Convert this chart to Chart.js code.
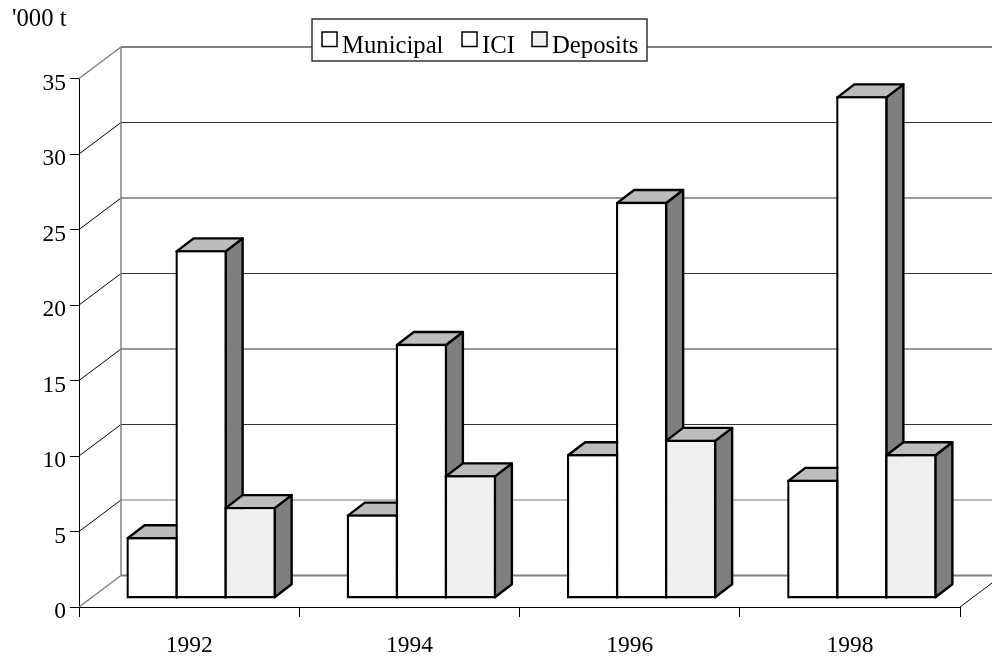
<!DOCTYPE html>
<html>
<head>
<meta charset="utf-8">
<title>Chart</title>
<script src="https://cdn.jsdelivr.net/npm/chart.js@4/dist/chart.umd.min.js"></script>
<style>
  body { margin: 0; background: #fff; }
  canvas { display: block; }
</style>
</head>
<body>
<canvas id="chart" width="992" height="657"></canvas>
<script>
const years = ["1992", "1994", "1996", "1998"];
const municipal = [4.1, 5.6, 9.6, 7.9];
const ici = [23.1, 16.9, 26.3, 33.3];
const deposits = [6.1, 8.2, 10.55, 9.6];
const seriesNames = ["Municipal", "ICI", "Deposits"];
const seriesColors = ["#ffffff", "#ffffff", "#f0f0f0"];
const unitLabel = "'000 t";

const FONT = '"Liberation Serif", serif';
const LEGEND_SIZE = 24.7;
const TICK_SIZE = 23.5;
const OUTLINE = 2.4;
// how far the back wall sits from the front of the floor
const WALL_DX = 42;
const WALL_DY = -31.5;
// bars stand a little way back on the floor, and have their own depth
const BAR_DX = 12;
const BAR_DY = -8;
const DEPTH_DX = 17;
const DEPTH_DY = -13;

function line(ctx, x1, y1, x2, y2, color, width) {
  ctx.strokeStyle = color;
  ctx.lineWidth = width;
  ctx.beginPath();
  ctx.moveTo(x1, y1);
  ctx.lineTo(x2, y2);
  ctx.stroke();
}

function face(ctx, pts, fill) {
  ctx.fillStyle = fill;
  ctx.strokeStyle = "#000";
  ctx.lineWidth = OUTLINE;
  ctx.lineJoin = "round";
  ctx.beginPath();
  pts.forEach((p, i) => (i ? ctx.lineTo(p[0], p[1]) : ctx.moveTo(p[0], p[1])));
  ctx.closePath();
  ctx.fill();
  ctx.stroke();
}

function drawWalls(chart) {
  const ctx = chart.ctx;
  const x = chart.scales.x;
  const y = chart.scales.y;
  ctx.save();
  y.ticks.forEach((t) => {
    const py = y.getPixelForValue(t.value);
    const edge = t.value === 0 || t.value === 35;
    const color = edge ? "#808080" : t.value === 5 ? "#777" : "#333";
    line(ctx, x.left, py, x.left + WALL_DX, py + WALL_DY, edge ? "#808080" : "#000", edge ? 1.5 : 1);
    line(ctx, x.left + WALL_DX, py + WALL_DY, x.right + WALL_DX, py + WALL_DY, color, edge ? 2 : 1);
  });
  const top = y.getPixelForValue(35) + WALL_DY;
  const floor = y.getPixelForValue(0) + WALL_DY;
  line(ctx, x.left + WALL_DX, top, x.left + WALL_DX, floor, "#808080", 1.5);
  line(ctx, x.right, y.getPixelForValue(0), x.right + WALL_DX, floor, "#000", 1);
  ctx.restore();
}

const walls3d = {
  id: "walls3d",
  beforeDatasetsDraw(chart) {
    const ctx = chart.ctx;
    drawWalls(chart);
    // series go left to right, so each bar's front hides the side of the one before
    ctx.save();
    ctx.translate(BAR_DX, BAR_DY);
    chart.data.datasets.forEach((ds, i) => {
      const meta = chart.getDatasetMeta(i);
      meta.data.forEach((el) => {
        const l = el.x - el.width / 2 + OUTLINE / 2;
        const r = el.x + el.width / 2 - OUTLINE / 2;
        const t = el.y + OUTLINE / 2;
        const b = el.base - OUTLINE / 2;
        face(ctx, [[r, t], [r + DEPTH_DX, t + DEPTH_DY], [r + DEPTH_DX, b + DEPTH_DY], [r, b]], "#7f7f7f");
        face(ctx, [[l, t], [l + DEPTH_DX, t + DEPTH_DY], [r + DEPTH_DX, t + DEPTH_DY], [r, t]], "#bcbcbc");
      });
      meta.controller.draw();
    });
    ctx.restore();
    return false;
  },
  afterDraw(chart) {
    const ctx = chart.ctx;
    ctx.save();
    ctx.fillStyle = "#000";
    ctx.font = LEGEND_SIZE + "px " + FONT;
    ctx.textBaseline = "alphabetic";
    ctx.textAlign = "left";
    ctx.fillText(unitLabel, 12, 26);

    // legend sits over the top edge of the back wall
    ctx.fillStyle = "#fff";
    ctx.fillRect(312, 19, 335, 42);
    ctx.strokeStyle = "#333";
    ctx.lineWidth = 1.5;
    ctx.strokeRect(312, 19, 335, 42);
    const swatchX = [322, 462, 532];
    seriesNames.forEach((name, i) => {
      ctx.fillStyle = seriesColors[i];
      ctx.fillRect(swatchX[i], 32, 15, 14.5);
      ctx.strokeStyle = "#000";
      ctx.lineWidth = 1.5;
      ctx.strokeRect(swatchX[i], 32, 15, 14.5);
      ctx.fillStyle = "#000";
      ctx.fillText(name, swatchX[i] + 20, 53);
    });
    ctx.restore();
  },
};

new Chart(document.getElementById("chart"), {
  type: "bar",
  plugins: [walls3d],
  data: {
    labels: years,
    datasets: [municipal, ici, deposits].map((values, i) => ({
      label: seriesNames[i],
      data: values,
      backgroundColor: seriesColors[i],
      borderColor: "#000",
      borderWidth: OUTLINE,
      borderSkipped: false,
      barPercentage: (49 + OUTLINE) / 49,
      categoryPercentage: 147 / 220.25,
    })),
  },
  options: {
    responsive: false,
    animation: false,
    layout: { padding: { top: 78.5, right: 32, left: 0, bottom: 0 } },
    plugins: {
      legend: { display: false },
      tooltip: { enabled: false },
    },
    scales: {
      x: {
        afterFit: (s) => { s.height = 50; },
        border: { color: "#000", width: 1 },
        grid: { offset: true, drawOnChartArea: false, color: "#000", tickLength: 10 },
        ticks: { color: "#000", font: { family: FONT, size: TICK_SIZE }, padding: 15, maxRotation: 0 },
      },
      y: {
        min: 0,
        max: 35,
        afterFit: (s) => { s.width = 79; },
        border: { color: "#000", width: 1 },
        grid: { drawOnChartArea: false, color: "#000", tickLength: 9 },
        ticks: { color: "#000", stepSize: 5, font: { family: FONT, size: TICK_SIZE }, padding: 4, labelOffset: 5 },
      },
    },
  },
});
</script>
</body>
</html>
